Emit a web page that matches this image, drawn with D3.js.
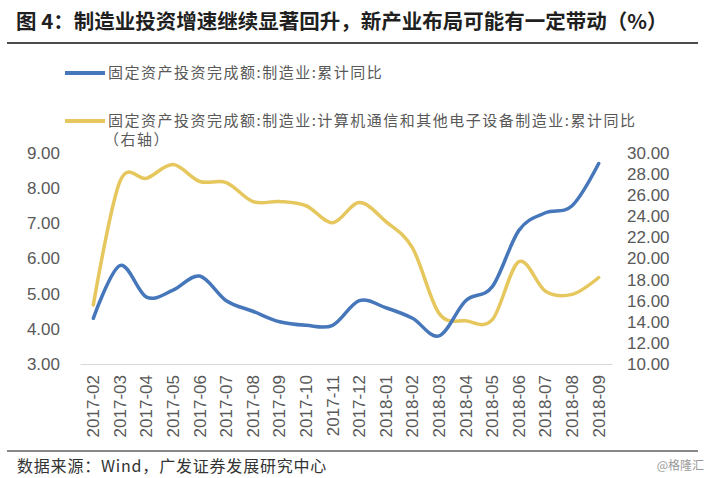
<!DOCTYPE html>
<html>
<head>
<meta charset="utf-8">
<script src="https://cdn.jsdelivr.net/npm/d3@7/dist/d3.min.js"></script>
<style>
  html, body { margin: 0; padding: 0; background: #fff; }
  svg { display: block; }
</style>
</head>
<body>
<svg id="chart" width="710" height="478"></svg>
<script>
const categories = ["2017-02","2017-03","2017-04","2017-05","2017-06","2017-07","2017-08","2017-09","2017-10","2017-11","2017-12","2018-01","2018-02","2018-03","2018-04","2018-05","2018-06","2018-07","2018-08","2018-09"];
const manufacturing = [4.3,5.8,4.9,5.1,5.5,4.8,4.5,4.2,4.1,4.1,4.8,4.6,4.3,3.8,4.8,5.2,6.8,7.3,7.5,8.7];
const electronics = [15.6,27.3,27.6,28.9,27.3,27.2,25.4,25.4,25.0,23.4,25.3,23.5,21.0,14.8,14.1,14.2,19.7,16.9,16.6,18.2];
const leftTicks = [3,4,5,6,7,8,9];
const rightTicks = [10,12,14,16,18,20,22,24,26,28,30];
const seriesNames = ["固定资产投资完成额:制造业:累计同比", "固定资产投资完成额:制造业:计算机通信和其他电子设备制造业:累计同比"];
const title = "图 4：制造业投资增速继续显著回升，新产业布局可能有一定带动（%）";
const source = "数据来源：Wind，广发证券发展研究中心";

const svg = d3.select("#chart");
const cjk = "'Noto Sans CJK SC', 'Noto Sans', sans-serif";
const latin = "'Liberation Sans', Arial, sans-serif";
const blue = "#4677bb";
const yellow = "#e6c75e";
const gray = "#595959";

const plot = { left: 80, right: 612, top: 153, bottom: 364 };

// Title
svg.append("text").attr("x", 16).attr("y", 29)
  .attr("font-family", cjk).attr("font-weight", "bold").attr("font-size", 20.5)
  .attr("fill", "#1f1f1f").text(title);
svg.append("line").attr("x1", 7).attr("x2", 698).attr("y1", 43).attr("y2", 43)
  .attr("stroke", "#111").attr("stroke-width", 1.5);

// Scales
const x = d3.scaleBand().domain(categories).range([plot.left, plot.right]);
const yL = d3.scaleLinear().domain([3, 9]).range([plot.bottom, plot.top]);
const yR = d3.scaleLinear().domain([10, 30]).range([plot.bottom, plot.top]);

// Axes
const leftAxis = svg.append("g").attr("transform", `translate(${plot.left - 20},0)`)
  .call(d3.axisLeft(yL).tickValues(leftTicks).tickFormat(d3.format(".2f")).tickSize(0).tickPadding(0));
const rightAxis = svg.append("g").attr("transform", `translate(${plot.right + 15},0)`)
  .call(d3.axisRight(yR).tickValues(rightTicks).tickFormat(d3.format(".2f")).tickSize(0).tickPadding(0));
[leftAxis, rightAxis].forEach(a => {
  a.select(".domain").remove();
  a.selectAll("text").attr("font-family", latin).attr("font-size", 17).attr("fill", gray);
});

const bottomAxis = svg.append("g").attr("transform", `translate(0,${plot.bottom})`)
  .call(d3.axisBottom(x).tickSize(0).tickPadding(0));
bottomAxis.select(".domain").attr("stroke", "#d9d9d9").attr("stroke-width", 1);
bottomAxis.selectAll("text")
  .attr("font-family", latin).attr("font-size", 17).attr("fill", gray)
  .attr("transform", "rotate(-90)")
  .attr("text-anchor", "end")
  .attr("x", -11).attr("y", 0).attr("dy", "0.35em");

// Lines
const lineL = d3.line().x((d, i) => x(categories[i]) + x.bandwidth() / 2).y(d => yL(d)).curve(d3.curveCatmullRom.alpha(0));
const lineR = d3.line().x((d, i) => x(categories[i]) + x.bandwidth() / 2).y(d => yR(d)).curve(d3.curveCatmullRom.alpha(0));

svg.append("path").datum(electronics).attr("d", lineR)
  .attr("fill", "none").attr("stroke", yellow).attr("stroke-width", 3.5).attr("stroke-linecap", "round");
svg.append("path").datum(manufacturing).attr("d", lineL)
  .attr("fill", "none").attr("stroke", blue).attr("stroke-width", 3.5).attr("stroke-linecap", "round");

// Legend
const legend = svg.append("g");
const items = [
  { name: seriesNames[0], color: blue, y: 73 },
  { name: seriesNames[1], color: yellow, y: 121 }
];
items.forEach(it => {
  legend.append("line").attr("x1", 65).attr("x2", 105).attr("y1", it.y).attr("y2", it.y)
    .attr("stroke", it.color).attr("stroke-width", 4);
  legend.append("text").attr("x", 108).attr("y", it.y).attr("dy", "0.35em")
    .attr("font-family", cjk).attr("font-size", 15).attr("letter-spacing", 1.5)
    .attr("fill", gray).text(it.name);
});
legend.append("text").attr("x", 104).attr("y", 140).attr("dy", "0.35em")
  .attr("font-family", cjk).attr("font-size", 15).attr("letter-spacing", 1.5)
  .attr("fill", gray).text("（右轴）");

// Footer
svg.append("line").attr("x1", 7).attr("x2", 698).attr("y1", 451).attr("y2", 451)
  .attr("stroke", "#111").attr("stroke-width", 1.2);
svg.append("text").attr("x", 17).attr("y", 466).attr("dy", "0.35em")
  .attr("font-family", cjk).attr("font-size", 16).attr("letter-spacing", 0.8)
  .attr("fill", "#333").text(source);
svg.append("text").attr("x", 704).attr("y", 466).attr("dy", "0.35em").attr("text-anchor", "end")
  .attr("font-family", cjk).attr("font-size", 12).attr("fill", "#9a9a9a").text("@格隆汇");
</script>
</body>
</html>
